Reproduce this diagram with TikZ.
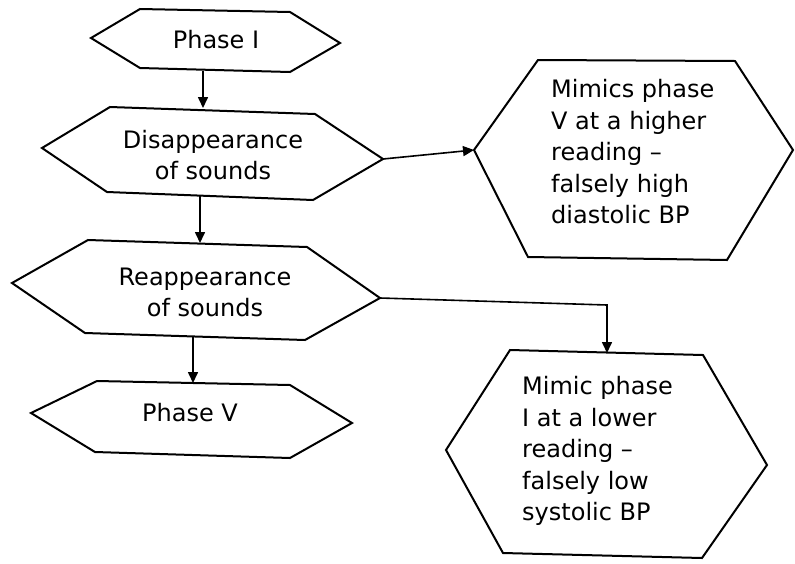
\documentclass[tikz,border=0pt]{standalone}
\usepackage{fontspec}
\setmainfont{DejaVu Sans}
\usetikzlibrary{arrows.meta}
\begin{document}
\begin{tikzpicture}[x=1pt,y=-1pt,
  hexline/.style={draw=black, line width=2pt, line join=miter},
  conn/.style={draw=black, line width=1.6pt, -{Triangle[length=11pt,width=10pt]}},
  plainconn/.style={draw=black, line width=1.6pt},
  lbl/.style={font=\fontsize{24}{31}\selectfont, inner sep=0pt, align=center, text=black},
  lbll/.style={font=\fontsize{24}{31.5}\selectfont, inner sep=0pt, align=left, text=black}]
\useasboundingbox (0,0) rectangle (795,563);
% Hexagon 1: Phase I
\coordinate (aL) at (91,38); \coordinate (aTL) at (140,9); \coordinate (aTR) at (290,12);
\coordinate (aR) at (340,43); \coordinate (aBR) at (290,72); \coordinate (aBL) at (140,68);
\draw[hexline] (aL) -- (aTL) -- (aTR) -- (aR) -- (aBR) -- (aBL) -- cycle;
\node[lbl] (ta) at (216,40) {Phase I};
% Hexagon 2: Disappearance of sounds
\coordinate (bL) at (42,148); \coordinate (bTL) at (110,107); \coordinate (bTR) at (315,114);
\coordinate (bR) at (383,159); \coordinate (bBR) at (313,200); \coordinate (bBL) at (107,192);
\draw[hexline] (bL) -- (bTL) -- (bTR) -- (bR) -- (bBR) -- (bBL) -- cycle;
\node[lbl] (tb) at (213,155) {Disappearance\\of sounds};
% Hexagon 3: Mimics phase V
\coordinate (cL) at (474,150); \coordinate (cTL) at (538,60); \coordinate (cTR) at (735,61);
\coordinate (cR) at (793,150); \coordinate (cBR) at (727,260); \coordinate (cBL) at (528,257);
\draw[hexline] (cL) -- (cTL) -- (cTR) -- (cR) -- (cBR) -- (cBL) -- cycle;
\node[lbll, anchor=west] (tc) at (551,152) {Mimics phase\\V at a higher\\reading –\\falsely high\\diastolic BP};
% Hexagon 4: Reappearance of sounds
\coordinate (dL) at (12,283); \coordinate (dTL) at (88,240); \coordinate (dTR) at (307,247);
\coordinate (dR) at (380,298); \coordinate (dBR) at (305,340); \coordinate (dBL) at (85,333);
\draw[hexline] (dL) -- (dTL) -- (dTR) -- (dR) -- (dBR) -- (dBL) -- cycle;
\node[lbl] (td) at (205,292) {Reappearance\\of sounds};
% Hexagon 5: Mimic phase I
\coordinate (eL) at (446,450); \coordinate (eTL) at (510,350); \coordinate (eTR) at (703,355);
\coordinate (eR) at (767,465); \coordinate (eBR) at (702,558); \coordinate (eBL) at (503,553);
\draw[hexline] (eL) -- (eTL) -- (eTR) -- (eR) -- (eBR) -- (eBL) -- cycle;
\node[lbll, anchor=west] (te) at (522,451) {Mimic phase\\I at a lower\\reading –\\falsely low\\systolic BP};
% Hexagon 6: Phase V
\coordinate (fL) at (31,413); \coordinate (fTL) at (97,381); \coordinate (fTR) at (290,385);
\coordinate (fR) at (352,423); \coordinate (fBR) at (290,458); \coordinate (fBL) at (95,452);
\draw[hexline] (fL) -- (fTL) -- (fTR) -- (fR) -- (fBR) -- (fBL) -- cycle;
\node[lbl] (tf) at (190,413) {Phase V};
% Connectors
\coordinate (a1) at (203,71); \coordinate (b1) at (203,108);
\draw[conn] (a1) -- (b1);
\coordinate (b2) at (200,196); \coordinate (d1) at (200,243);
\draw[conn] (b2) -- (d1);
\coordinate (d2) at (193,337); \coordinate (f1) at (193,383);
\draw[conn] (d2) -- (f1);
\draw[conn] (bR) -- (cL);
\coordinate (k) at (607,305); \coordinate (e1) at (607,353);
\draw[conn] (dR) -- (k) -- (e1);
\end{tikzpicture}
\end{document}
